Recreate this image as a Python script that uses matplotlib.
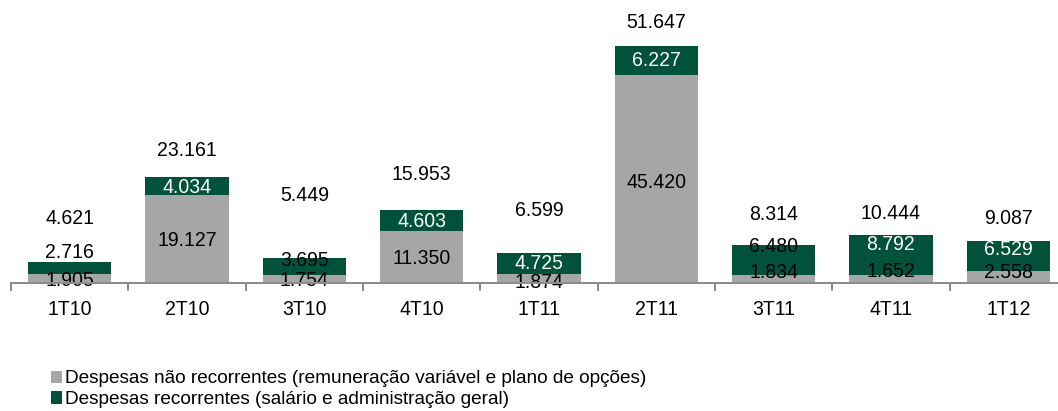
import matplotlib
matplotlib.use("Agg")
import matplotlib.pyplot as plt
from matplotlib.patches import Patch
import numpy as np

# --- dados ---
categorias = ["1T10", "2T10", "3T10", "4T10", "1T11", "2T11", "3T11", "4T11", "1T12"]
nao_recorrentes = [1.905, 19.127, 1.754, 11.350, 1.874, 45.420, 1.834, 1.652, 2.558]
recorrentes = [2.716, 4.034, 3.695, 4.603, 4.725, 6.227, 6.480, 8.792, 6.529]
totais = [4.621, 23.161, 5.449, 15.953, 6.599, 51.647, 8.314, 10.444, 9.087]

legenda = ["Despesas não recorrentes (remuneração variável e plano de opções)",
           "Despesas recorrentes (salário e administração geral)"]

# --- estilo (deslocamentos dos rótulos em pontos) ---
COR_CINZA = "#a6a6a6"
COR_VERDE = "#00533a"
dy_cinza = [-2, -1, -2, -2, -4, -4, 6, 8, 5]
dy_verde = [16, -1, 6, -1, 0, 0, 13, 11, 7]
cor_txt_verde = ["black", "white", "black", "white", "white", "white", "black", "white", "white"]
dy_total = [43, 26, 63, 35, 42, 24, 30, 22, 23]

plt.rcParams["font.family"] = ["Liberation Sans", "DejaVu Sans"]
FS = 19.5

def fmt(v):
    return f"{v:.3f}"

fig = plt.figure(figsize=(1058 / 72, 411 / 72), dpi=72)
ax = fig.add_axes([11 / 1058, (411 - 283) / 411, 1056 / 1058, 283 / 411])

x = np.arange(len(categorias))
w = 0.71
ax.bar(x, nao_recorrentes, w, color=COR_CINZA, zorder=2)
ax.bar(x, recorrentes, w, bottom=nao_recorrentes, color=COR_VERDE, zorder=2)

for i in range(len(categorias)):
    ax.annotate(fmt(nao_recorrentes[i]), (x[i], nao_recorrentes[i] / 2),
                xytext=(0, dy_cinza[i]), textcoords="offset points",
                ha="center", va="center", fontsize=FS, color="black", zorder=3)
    ax.annotate(fmt(recorrentes[i]), (x[i], nao_recorrentes[i] + recorrentes[i] / 2),
                xytext=(0, dy_verde[i]), textcoords="offset points",
                ha="center", va="center", fontsize=FS, color=cor_txt_verde[i], zorder=3)
    ax.annotate(fmt(totais[i]), (x[i], totais[i]),
                xytext=(0, dy_total[i]), textcoords="offset points",
                ha="center", va="center", fontsize=FS, color="black", zorder=3)

ax.set_xlim(-0.5, len(categorias) - 0.5)
ax.set_ylim(0, 61.7)
for s in ["top", "right", "left"]:
    ax.spines[s].set_visible(False)
ax.spines["bottom"].set_color("#8c8c8c")
ax.spines["bottom"].set_linewidth(2)
ax.spines["bottom"].set_zorder(4)
ax.set_yticks([])
ax.set_xticks(x)
ax.set_xticklabels(categorias, fontsize=FS)
ax.tick_params(axis="x", which="major", length=0, pad=17)
ax.set_xticks(np.arange(-0.5, len(categorias)), minor=True)
ax.tick_params(axis="x", which="minor", length=8, width=2, color="#8c8c8c", direction="out")
ax.patch.set_alpha(0)

handles = [Patch(color=COR_CINZA), Patch(color=COR_VERDE)]
fig.legend(handles, legenda, loc="upper left", bbox_to_anchor=(51 / 1058, 1 - 370 / 411),
           frameon=False, fontsize=19, handlelength=0.55, handleheight=0.55,
           handletextpad=0.2, labelspacing=0.2, borderpad=0, borderaxespad=0)

fig.savefig("out.png", dpi=72)
